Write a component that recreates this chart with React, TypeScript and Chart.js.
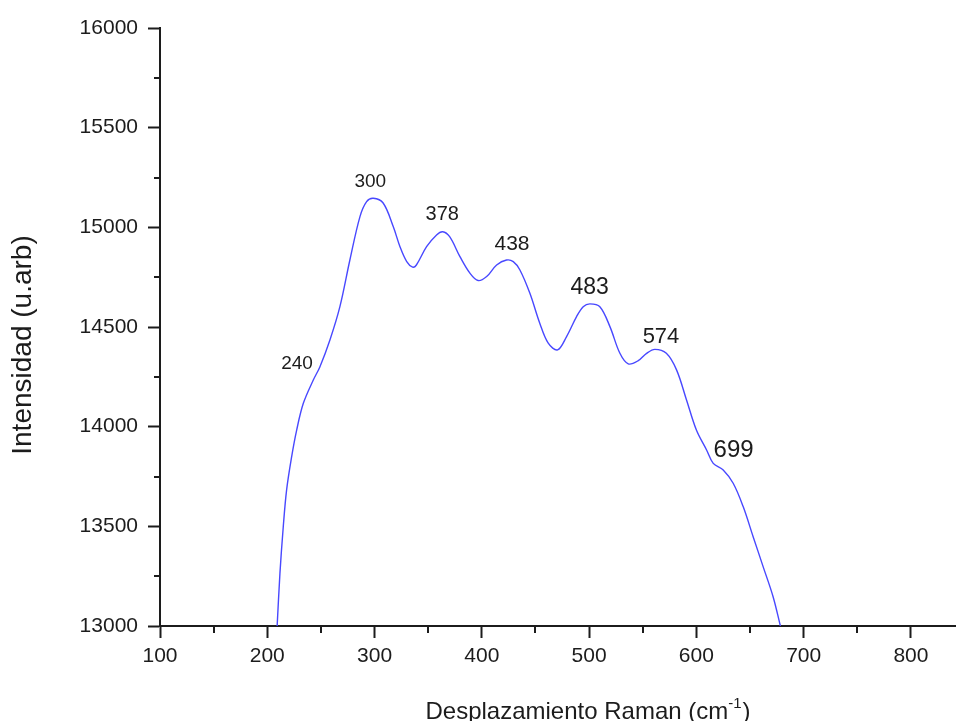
import React, { useEffect, useRef } from "react";
import { Chart, registerables } from "chart.js";

Chart.register(...registerables);

// Raman spectrum: shift (cm-1) and intensity (arbitrary units)
const ramanShift = [
  209.2, 211.8, 214.9, 218, 222.7, 227.4, 233.6, 242.9, 249.1, 258.4, 267.7, 277,
  286.4, 292.6, 298.8, 308, 317.4, 323.7, 330, 335.5, 339, 348.5, 357.8, 363.5,
  370, 379.6, 388.9, 396.6, 404.5, 413.8, 423, 429.3, 435.5, 444.8, 454, 461.9,
  470.6, 479, 488.3, 494.5, 500.7, 510, 519.4, 528.7, 536.5, 545.8, 553.6, 561.3,
  572, 581.5, 590.8, 600, 609.5, 615.7, 625, 634.3, 643.6, 652.9, 662.2, 671.5,
  678.3,
];
const intensity = [
  13000, 13264, 13498, 13682, 13849, 13983, 14117, 14234, 14301, 14435, 14602, 14836,
  15054, 15129, 15146, 15122, 15004, 14903, 14828, 14800, 14811, 14903, 14962, 14978,
  14953, 14853, 14770, 14733, 14753, 14811, 14836, 14828, 14786, 14669, 14519, 14419,
  14385, 14452, 14552, 14602, 14616, 14602, 14502, 14368, 14315, 14331, 14368, 14388,
  14368, 14285, 14134, 13983, 13883, 13816, 13783, 13716, 13599, 13448, 13298, 13147,
  13000,
];

// Band annotations: text and anchor in data coordinates
const bandLabels = ["240", "300", "378", "438", "483", "574", "699"];
const bandX = [227.7, 296, 363.1, 428.1, 500.5, 567, 634.7];
const bandY = [14314, 15227, 15062, 14916, 14699, 14448, 13883];

const xTicks = [100, 200, 300, 400, 500, 600, 700, 800];
const yTicks = [13000, 13500, 14000, 14500, 15000, 15500, 16000];

const FONT = "'Liberation Sans', Arial, Helvetica, sans-serif";
const INK = "#1c1c1c";
const bandFontSizes = [19, 19, 20, 21, 23, 22, 24];

const decorations = {
  id: "decorations",
  afterDraw(chart: any) {
    const { ctx, chartArea, scales } = chart;
    const xs = scales.x;
    const ys = scales.y;
    ctx.save();

    // minor ticks (outward)
    ctx.strokeStyle = INK;
    ctx.lineWidth = 2;
    ctx.beginPath();
    for (let i = 0; i < xTicks.length; i++) {
      const v = xTicks[i] + 50;
      if (v > xs.max) continue;
      const px = Math.round(xs.getPixelForValue(v));
      ctx.moveTo(px, chartArea.bottom);
      ctx.lineTo(px, chartArea.bottom + 7);
    }
    for (let i = 0; i < yTicks.length - 1; i++) {
      const v = yTicks[i] + 250;
      const py = Math.round(ys.getPixelForValue(v));
      ctx.moveTo(chartArea.left, py);
      ctx.lineTo(chartArea.left - 6, py);
    }
    ctx.stroke();

    // band labels
    ctx.fillStyle = INK;
    ctx.textAlign = "center";
    ctx.textBaseline = "middle";
    for (let i = 0; i < bandLabels.length; i++) {
      ctx.font = `${bandFontSizes[i]}px ${FONT}`;
      ctx.fillText(
        bandLabels[i],
        xs.getPixelForValue(bandX[i]),
        ys.getPixelForValue(bandY[i])
      );
    }

    // y axis title
    ctx.save();
    ctx.translate(23, 345);
    ctx.rotate(-Math.PI / 2);
    ctx.font = `28px ${FONT}`;
    ctx.textAlign = "center";
    ctx.textBaseline = "middle";
    ctx.fillText("Intensidad (u.arb)", 0, 0);
    ctx.restore();

    // x axis title with superscript
    const main = "Desplazamiento Raman (cm";
    const sup = "-1";
    const close = ")";
    ctx.textAlign = "left";
    ctx.textBaseline = "alphabetic";
    ctx.font = `24px ${FONT}`;
    const wMain = ctx.measureText(main).width;
    const wClose = ctx.measureText(close).width;
    ctx.font = `15px ${FONT}`;
    const wSup = ctx.measureText(sup).width;
    const total = wMain + wSup + wClose + 1;
    let x0 = 588 - total / 2;
    const base = 719;
    ctx.font = `24px ${FONT}`;
    ctx.fillText(main, x0, base);
    x0 += wMain;
    ctx.font = `15px ${FONT}`;
    ctx.fillText(sup, x0, base - 11);
    x0 += wSup + 1;
    ctx.font = `24px ${FONT}`;
    ctx.fillText(close, x0, base);

    ctx.restore();
  },
};

export default function App() {
  const canvasRef = useRef<HTMLCanvasElement | null>(null);

  useEffect(() => {
    const canvas = canvasRef.current;
    if (!canvas) return;
    const points = ramanShift.map((x, i) => ({ x, y: intensity[i] }));

    const chart = new Chart(canvas, {
      type: "line",
      data: {
        datasets: [
          {
            data: points,
            borderColor: "rgb(72, 72, 255)",
            borderWidth: 1.4,
            pointRadius: 0,
            fill: false,
            tension: 0.35,
          },
        ],
      },
      options: {
        animation: false,
        responsive: true,
        maintainAspectRatio: false,
        layout: { padding: { top: 28, right: 0, left: 0, bottom: 0 } },
        plugins: {
          legend: { display: false },
          tooltip: { enabled: false },
        },
        scales: {
          x: {
            type: "linear",
            min: 100,
            max: 842,
            afterBuildTicks: (scale: any) => {
              scale.ticks = xTicks.map((v) => ({ value: v }));
            },
            afterFit: (scale: any) => {
              scale.height = 95;
            },
            ticks: {
              font: { family: FONT, size: 21 },
              color: INK,
              padding: 6,
              maxRotation: 0,
              autoSkip: false,
              callback: (v: any) => String(v),
            },
            grid: {
              drawOnChartArea: false,
              drawTicks: true,
              tickLength: 12,
              tickWidth: 2,
              tickColor: INK,
            },
            border: { display: true, color: INK, width: 2 },
          },
          y: {
            type: "linear",
            min: 13000,
            max: 16000,
            afterBuildTicks: (scale: any) => {
              scale.ticks = yTicks.map((v) => ({ value: v }));
            },
            afterFit: (scale: any) => {
              scale.width = 160;
            },
            ticks: {
              font: { family: FONT, size: 21 },
              color: INK,
              padding: 10,
              autoSkip: false,
              callback: (v: any) => String(v),
            },
            grid: {
              drawOnChartArea: false,
              drawTicks: true,
              tickLength: 12,
              tickWidth: 2,
              tickColor: INK,
            },
            border: { display: true, color: INK, width: 2 },
          },
        },
      },
      plugins: [decorations],
    });

    return () => chart.destroy();
  }, []);

  return (
    <div
      style={{
        position: "fixed",
        left: 0,
        top: 0,
        width: 956,
        height: 721,
        background: "#fff",
      }}
    >
      <canvas ref={canvasRef} />
    </div>
  );
}
